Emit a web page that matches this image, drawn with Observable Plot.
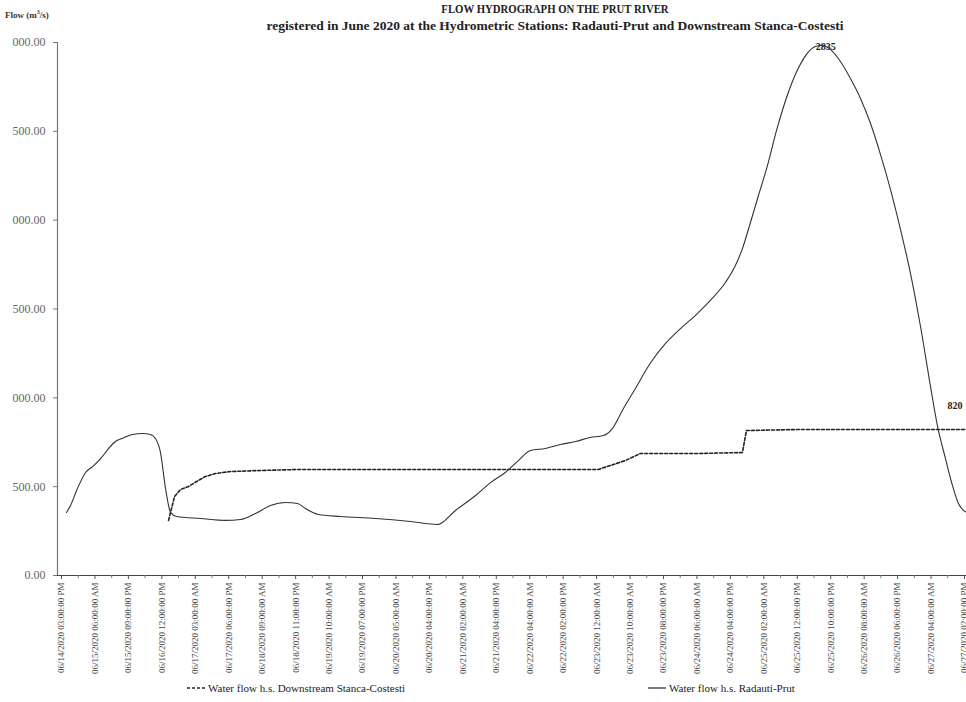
<!DOCTYPE html>
<html>
<head>
<meta charset="utf-8">
<script src="https://cdn.jsdelivr.net/npm/d3@7"></script>
<script src="https://cdn.jsdelivr.net/npm/@observablehq/plot@0.6"></script>
<style>
  html, body { margin: 0; padding: 0; background: #fff; }
  #wrap { position: relative; width: 966px; height: 702px; overflow: hidden; font-family: "Liberation Serif", "DejaVu Serif", serif; }
  #chart { position: absolute; left: 0; top: 0; }
  #chart svg { clip-path: inset(0 0 0 12px); }
  .abs { position: absolute; white-space: nowrap; color: #222; }
  #title { left: 0; width: 1110px; top: 2px; text-align: center; font-weight: bold; font-size: 12.5px; transform: scaleX(0.86); transform-origin: 555px 0; }
  #subtitle { left: 0; width: 1110px; top: 18px; text-align: center; font-weight: bold; font-size: 13.5px; }
  #ylab { left: 5px; top: 9px; font-size: 9px; font-weight: bold; color: #333; }
  .leg { top: 682px; font-size: 11px; display: flex; align-items: center; gap: 3px; }
  .leg svg { display: block; }
</style>
</head>
<body>
<div id="wrap">
  <div id="chart"></div>
  <div class="abs" id="title">FLOW HYDROGRAPH ON THE PRUT RIVER</div>
  <div class="abs" id="subtitle">registered in June 2020 at the Hydrometric Stations: Radauti-Prut and Downstream Stanca-Costesti</div>
  <div class="abs" id="ylab">Flow (m<sup style="font-size:6px">3</sup>/s)</div>
  <div class="abs leg" style="left:187px"><svg width="18" height="6"><line x1="0" y1="3" x2="18" y2="3" stroke="#222" stroke-width="1.5" stroke-dasharray="3,2"/></svg><span>Water flow h.s. Downstream Stanca-Costesti</span></div>
  <div class="abs leg" style="left:648px"><svg width="18" height="6"><line x1="0" y1="3" x2="18" y2="3" stroke="#222" stroke-width="1.2"/></svg><span>Water flow h.s. Radauti-Prut</span></div>
</div>
<script>
// Category tick labels (one every 12 samples on the category axis)
const tickLabels = [
  "06/14/2020 03:00:00 PM", "06/15/2020 06:00:00 AM", "06/15/2020 09:00:00 PM",
  "06/16/2020 12:00:00 PM", "06/17/2020 03:00:00 AM", "06/17/2020 06:00:00 PM",
  "06/18/2020 09:00:00 AM", "06/18/2020 11:00:00 PM", "06/19/2020 10:00:00 AM",
  "06/19/2020 07:00:00 PM", "06/20/2020 05:00:00 AM", "06/20/2020 04:00:00 PM",
  "06/21/2020 02:00:00 AM", "06/21/2020 04:00:00 PM", "06/22/2020 04:00:00 AM",
  "06/22/2020 02:00:00 PM", "06/23/2020 12:00:00 AM", "06/23/2020 10:00:00 AM",
  "06/23/2020 08:00:00 PM", "06/24/2020 06:00:00 AM", "06/24/2020 04:00:00 PM",
  "06/25/2020 02:00:00 AM", "06/25/2020 12:00:00 PM", "06/25/2020 10:00:00 PM",
  "06/26/2020 08:00:00 AM", "06/26/2020 06:00:00 PM", "06/27/2020 04:00:00 AM",
  "06/27/2020 02:00:00 PM"
];

// Y axis ticks (m3/s)
const yTicks = [0, 500, 1000, 1500, 2000, 2500, 3000];

// Radauti-Prut (solid): position on the category axis, flow m3/s
const radautiPos = [0.15, 0.27, 0.45, 0.72, 0.93, 1.17, 1.41, 1.61, 1.88, 2.12, 2.42, 2.66, 2.81, 2.96, 3.11, 3.26, 3.44,
  4.16, 4.90, 5.35, 5.80, 6.25, 6.70, 7.06, 7.29, 7.68, 8.34, 9.39, 10.43, 11.24, 11.78, 12.38, 12.83, 13.27, 13.66,
  14.02, 14.47, 14.92, 15.37, 15.81, 16.20, 16.47, 16.77, 17.16, 17.60, 18.06, 18.51, 18.95, 19.40, 19.85, 20.15,
  20.36, 20.60, 20.84, 21.11, 21.38, 21.67, 21.97, 22.27, 22.54, 22.75, 22.99, 23.29, 23.59, 23.89, 24.19, 24.48,
  24.78, 25.08, 25.38, 25.68, 25.98, 26.19, 26.43, 26.64, 26.82, 27.06];
const radautiFlow = [355, 394, 478, 580, 613, 658, 715, 754, 777, 794, 799, 794, 771, 692, 490, 355, 332,
  321, 310, 315, 349, 394, 411, 405, 377, 343, 332, 321, 304, 287, 366, 450, 523, 580, 647,
  704, 715, 737, 754, 777, 788, 827, 929, 1053, 1193, 1306, 1390, 1463, 1548, 1649, 1745,
  1840, 1987, 2139, 2308, 2505, 2685, 2831, 2932, 2977, 2983, 2961, 2893, 2797, 2685, 2544, 2375,
  2178, 1953, 1705, 1407, 1069, 844, 659, 507, 405, 355];

// Downstream Stanca-Costesti (dashed)
const stancaPos = [3.20, 3.38, 3.56, 3.80, 4.04, 4.30, 4.60, 5.05, 5.95, 7.15, 10.13, 13.12, 16.05, 16.41, 16.86,
  17.31, 17.91, 19.10, 20.36, 20.48, 22.09, 25.08, 27.06];
const stancaFlow = [310, 445, 484, 501, 529, 557, 574, 585, 591, 597, 597, 597, 597, 619, 647,
  687, 687, 687, 692, 816, 822, 822, 822];

// Data labels
const peakText = ["2835"];
const peakPos = [22.55];
const peakFlow = [2983];
const endText = ["820"];
const endPos = [26.49];
const endFlow = [822];

const radauti = radautiPos.map((x, i) => ({x, y: radautiFlow[i]}));
const stanca = stancaPos.map((x, i) => ({x, y: stancaFlow[i]}));
const peakNote = peakText.map((t, i) => ({t, x: peakPos[i], y: peakFlow[i]}));
const endNote = endText.map((t, i) => ({t, x: endPos[i], y: endFlow[i]}));
const xMin = -0.12, xMax = 27.06;
const minorTicks = d3.range(0, 27).map(i => i + 0.5);

const chart = Plot.plot({
  width: 966,
  height: 702,
  marginLeft: 57,
  marginRight: 0,
  marginTop: 42,
  marginBottom: 127,
  style: {fontFamily: "Liberation Serif, serif", background: "transparent", overflow: "visible"},
  x: {domain: [xMin, xMax], axis: null},
  y: {domain: [0, 3000], axis: null},
  marks: [
    Plot.axisY({ticks: yTicks, tickFormat: d => d.toFixed(2), tickSize: 4, tickPadding: 8, label: null,
      fontSize: 12, fill: "#666", stroke: "#777"}),
    Plot.ruleX([xMin], {stroke: "#777", strokeWidth: 1.2}),
    Plot.ruleY([0], {stroke: "#444", strokeWidth: 1}),
    Plot.axisX({ticks: d3.range(tickLabels.length), tickFormat: i => tickLabels[i], tickRotate: -90, label: null,
      tickSize: 4, tickPadding: 3, fontSize: 9, fill: "#444", stroke: "#555"}),
    Plot.axisX({ticks: minorTicks, tickFormat: () => "", tickSize: 3, label: null, stroke: "#777"}),
    Plot.line(stanca, {x: "x", y: "y", stroke: "#222", strokeWidth: 1.6, strokeDasharray: "3,2"}),
    Plot.line(radauti, {x: "x", y: "y", stroke: "#333", strokeWidth: 1.1, curve: "monotone-x"}),
    Plot.text(peakNote, {x: "x", y: "y", text: "t", dy: 1, fontSize: 10, fill: "#222", fontWeight: "bold", textAnchor: "start"}),
    Plot.text(endNote, {x: "x", y: "y", text: "t", dy: -24, fontSize: 10, fill: "#222", fontWeight: "bold", textAnchor: "start"})
  ]
});
document.getElementById("chart").append(chart);
</script>
</body>
</html>
